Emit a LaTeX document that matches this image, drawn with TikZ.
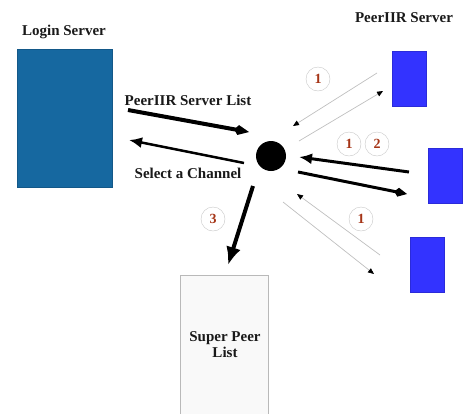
\documentclass[tikz,border=0pt]{standalone}
\usepackage{fontspec}
\setmainfont{Liberation Serif}
\usetikzlibrary{arrows.meta,positioning}
\definecolor{loginblue}{RGB}{22,104,160}
\definecolor{peerblue}{RGB}{51,51,255}
\definecolor{stepred}{RGB}{165,52,22}
\tikzstyle{box}=[draw=#1!85!black,fill=#1,inner sep=0pt]
\tikzstyle{title}=[font=\bfseries\fontsize{15}{15}\selectfont,text=black!90]
\newcommand{\stepmark}[3]{\node[circle,draw=gray!45,text=stepred,font=\bfseries\fontsize{14}{14}\selectfont,minimum size=24pt,inner sep=0pt] (#1) at (#2) {#3};}
\newcommand{\thinarrow}[2]{\draw[-{Triangle[length=6pt,width=5pt,black]},gray!50,line width=0.7pt] (#1) -- (#2);}
\newcommand{\fatarrow}[4]{\draw[#4,line width=#3,black] (#1) -- (#2);}

\begin{document}
\begin{tikzpicture}[x=1pt,y=-1pt]

    \useasboundingbox (0,0) rectangle (469,413);

    \node[box=loginblue,minimum width=95pt,minimum height=138pt] (login) at (64.5,118) {};
    \node[title] (logintext) at (64,32) {Login Server};

    \node[box=peerblue,minimum width=34pt,minimum height=55pt] (peerA) at (409,78.5) {};
    \node[box=peerblue,minimum width=34pt,minimum height=55pt] (peerB) at (445,175.5) {};
    \node[box=peerblue,minimum width=34pt,minimum height=55pt] (peerC) at (427,264.5) {};
    \node[title] (peertext) at (404,18) {PeerIIR Server};

    \node[circle,fill=black,minimum size=30pt,inner sep=0pt] (hub) at (271,156) {};

    \node[draw=gray!55,fill=gray!5,minimum width=88pt,minimum height=150pt,inner sep=0pt] (superlist) at (224,350) {};
    \node[title,align=center] (supertext) at (225,344.5) {Super Peer\\[1pt]List};

    \coordinate (listtail) at (128,110);
    \coordinate (listtip) at (249,132);
    \coordinate (chantail) at (244,163);
    \coordinate (chantip) at (129,140);
    \coordinate (downtail) at (253,186);
    \coordinate (downtip) at (228,265);
    \coordinate (atail) at (377,73);
    \coordinate (atip) at (293,126);
    \coordinate (btail) at (299,141);
    \coordinate (btip) at (383,91);
    \coordinate (ctail) at (409,172);
    \coordinate (ctip) at (299,157);
    \coordinate (dtail) at (298,172);
    \coordinate (dtip) at (407,194);
    \coordinate (etail) at (380,255);
    \coordinate (etip) at (297,194);
    \coordinate (ftail) at (283,202);
    \coordinate (ftip) at (374,274);

    \fatarrow{listtail}{listtip}{4pt}{-{Kite[length=15pt,width=10pt,inset=4pt]}}
    \node[title] (listtext) at (188,100) {PeerIIR Server List};
    \fatarrow{chantail}{chantip}{2.5pt}{-{Latex[length=13pt,width=11pt]}}
    \node[title] (chantext) at (188,173) {Select a Channel};
    \fatarrow{downtail}{downtip}{4pt}{-{Latex[length=18pt,width=15pt]}}

    \thinarrow{atail}{atip}
    \thinarrow{btail}{btip}
    \fatarrow{ctail}{ctip}{3pt}{-{Latex[length=13pt,width=11pt]}}
    \fatarrow{dtail}{dtip}{3pt}{-{Kite[length=13pt,width=9pt,inset=4pt]}}
    \thinarrow{etail}{etip}
    \thinarrow{ftail}{ftip}

    \stepmark{stepA}{318,79}{1}
    \stepmark{stepB}{349,144}{1}
    \stepmark{stepC}{377,144}{2}
    \stepmark{stepD}{361,219}{1}
    \stepmark{stepE}{213,219}{3}
\end{tikzpicture}
\end{document}
